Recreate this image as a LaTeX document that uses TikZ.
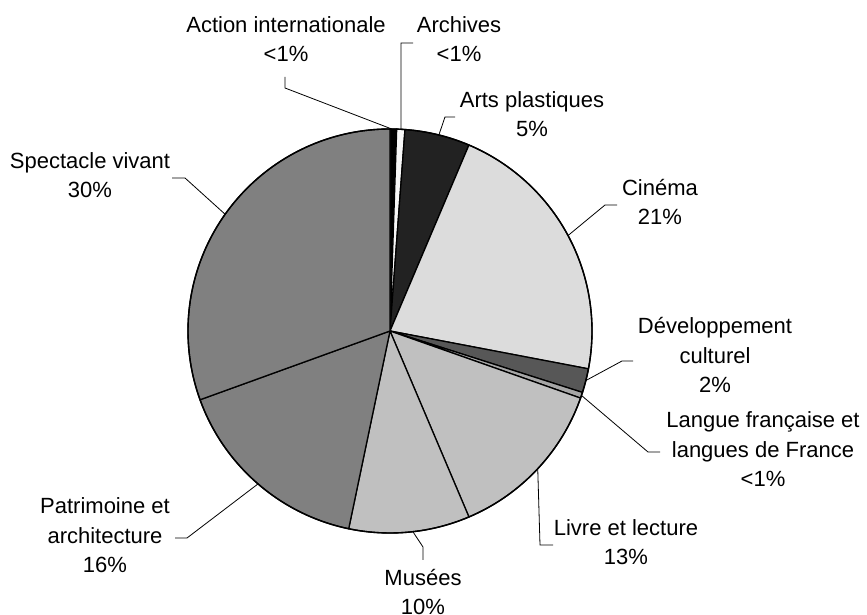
\documentclass[tikz,border=0pt]{standalone}
\usepackage{fontspec}
\setmainfont{Liberation Sans}
\begin{document}
\begin{tikzpicture}[x=1pt,y=1pt,
  slice/.style={draw=black,line width=1.3pt,line join=round},
  leader/.style={draw=black,line width=0.8pt},
  lbl/.style={align=center,anchor=base,inner sep=0pt,font=\fontsize{22}{29.5}\selectfont}]
\useasboundingbox (0,0) rectangle (867,615);
\def\R{202}
\coordinate (C) at (390,284);
% slices (clockwise from north)
\definecolor{cAct}{gray}{0}
\definecolor{cArc}{gray}{0.97}
\definecolor{cArt}{HTML}{222222}
\definecolor{cCin}{HTML}{DCDCDC}
\definecolor{cDev}{HTML}{575757}
\definecolor{cLan}{HTML}{A6A6A6}
\definecolor{cLiv}{HTML}{C0C0C0}
\definecolor{cMus}{HTML}{C0C0C0}
\definecolor{cPat}{HTML}{808080}
\definecolor{cSpe}{HTML}{808080}
\foreach \a/\b/\c in {90/88.1/cAct, 88.1/85.75/cArc, 85.75/67/cArt, 67/-10.8/cCin, -10.8/-17.7/cDev, -17.7/-19.4/cLan, -19.4/-67/cLiv, -67/-101.8/cMus, -101.8/-160.1/cPat, -160.1/-270/cSpe}
  \filldraw[slice,fill=\c] (C) -- ++(\a:\R) arc[start angle=\a,end angle=\b,radius=\R] -- cycle;
\draw[line width=1.4pt] (C) circle[radius=\R];
% labels (anchored at the baseline of their last line)
\node[lbl] (act) at (286,553) {Action internationale\\<1\%};
\node[lbl] (arc) at (459,553) {Archives\\<1\%};
\node[lbl] (art) at (532,478) {Arts plastiques\\5\%};
\node[lbl] (cin) at (660,390) {Cinéma\\21\%};
\node[lbl] (dev) at (715,222) {Développement\\culturel\\2\%};
\node[lbl] (lan) at (763,128) {Langue française et\\langues de France\\<1\%};
\node[lbl] (liv) at (626,50) {Livre et lecture\\13\%};
\node[lbl] (mus) at (423,0) {Musées\\10\%};
\node[lbl] (pat) at (105,42) {Patrimoine et\\architecture\\16\%};
\node[lbl] (spe) at (90,417) {Spectacle vivant\\30\%};
% leader points
\path (C) ++(89.5:\R) coordinate (pAct);
\path (C) ++(86.9:\R) coordinate (pArc);
\path (C) ++(76:\R) coordinate (pArt);
\path (C) ++(28.2:\R) coordinate (pCin);
\path (C) ++(-14.2:\R) coordinate (pDev);
\path (C) ++(-18.6:\R) coordinate (pLan);
\path (C) ++(-43:\R) coordinate (pLiv);
\path (C) ++(-83.5:\R) coordinate (pMus);
\path (C) ++(229.2:\R) coordinate (pPat);
\path (C) ++(144.7:\R) coordinate (pSpe);
\coordinate (sAct) at (285,538); \coordinate (kAct) at (285,527);
\coordinate (sArc) at (413,572); \coordinate (kArc) at (401,572);
\coordinate (sArt) at (455,498); \coordinate (kArt) at (445,498);
\coordinate (sCin) at (617,410); \coordinate (kCin) at (605,410);
\coordinate (sDev) at (633,254); \coordinate (kDev) at (622,254);
\coordinate (sLan) at (660,163); \coordinate (kLan) at (648,163);
\coordinate (sLiv) at (553,70);  \coordinate (kLiv) at (540,70);
\coordinate (sMus) at (423,55);  \coordinate (kMus) at (423,68);
\coordinate (sPat) at (175,77);  \coordinate (kPat) at (187,77);
\coordinate (sSpe) at (172,437); \coordinate (kSpe) at (185,437);
\foreach \n in {Act,Arc,Art,Cin,Dev,Lan,Liv,Mus,Pat,Spe}
  \draw[leader] (s\n) -- (k\n) -- (p\n);
\end{tikzpicture}
\end{document}
